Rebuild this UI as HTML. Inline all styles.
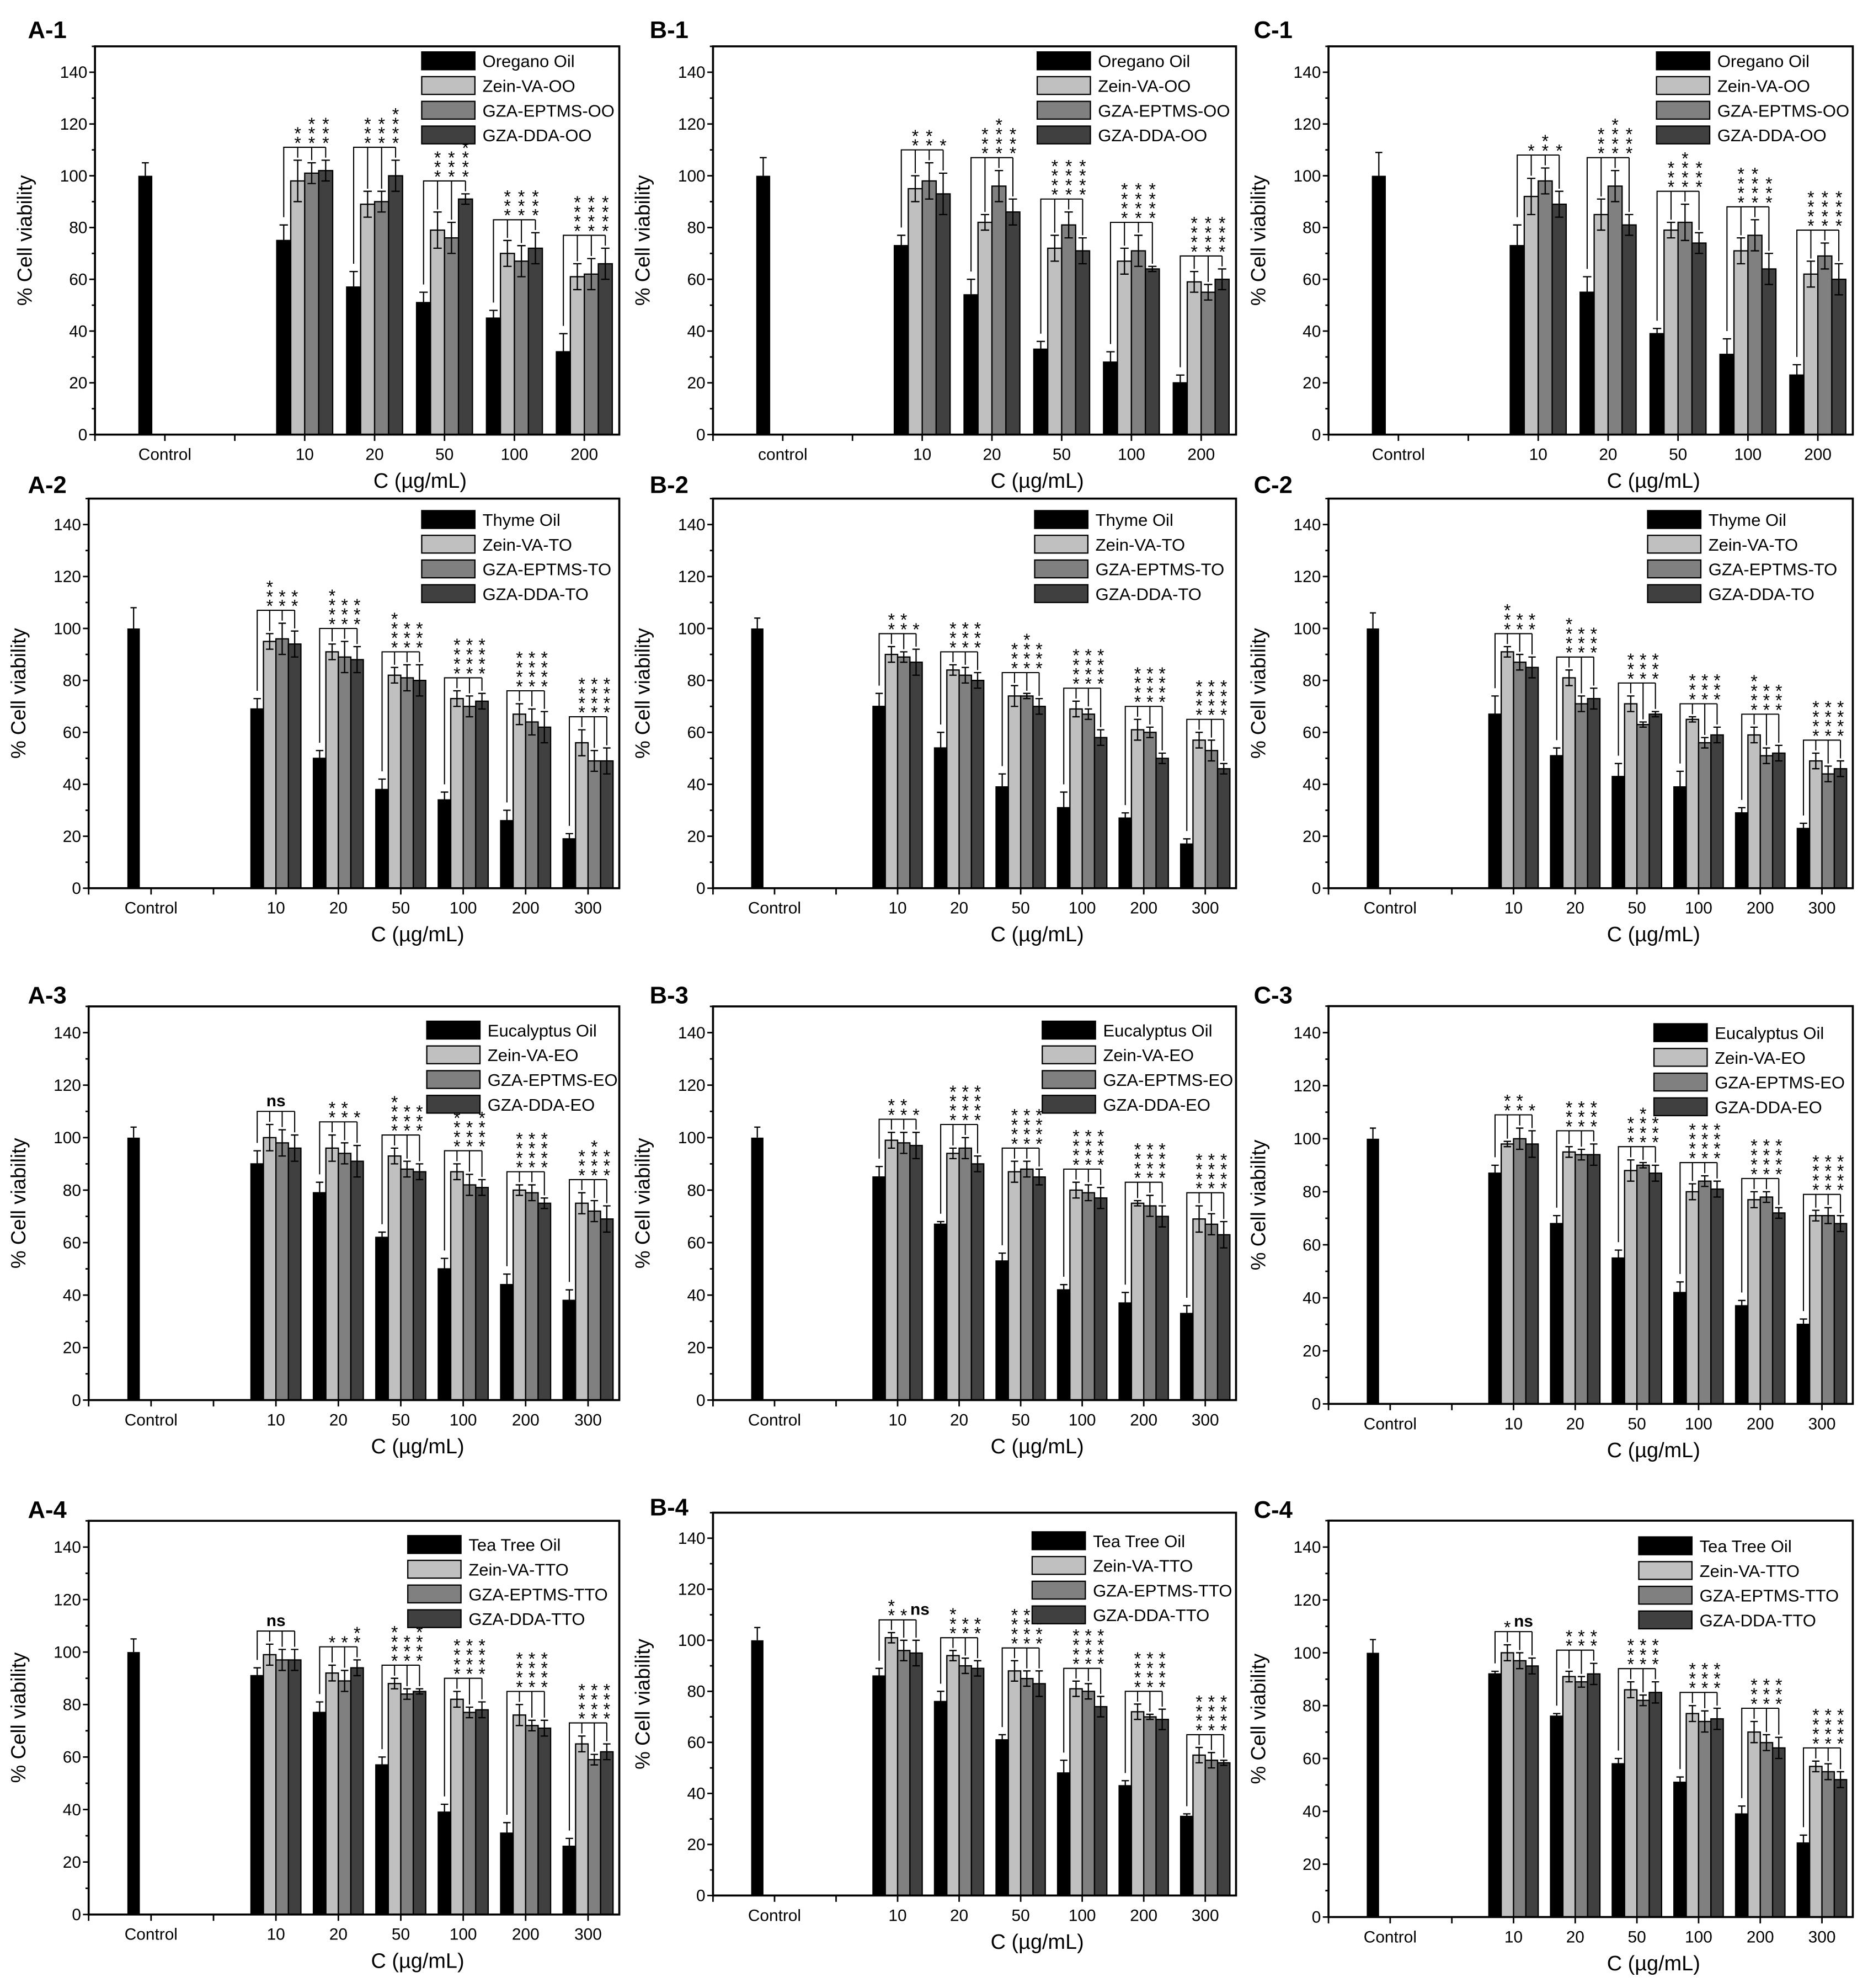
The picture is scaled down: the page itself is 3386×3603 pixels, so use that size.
<!DOCTYPE html>
<html><head><meta charset="utf-8"><title>Cell viability panels</title>
<style>html,body{margin:0;padding:0;background:#fff}svg{display:block}</style></head>
<body>
<svg id="fig" xmlns="http://www.w3.org/2000/svg" width="3386" height="3603" viewBox="0 0 1475 1569" preserveAspectRatio="none" font-family="'Liberation Sans', Arial, sans-serif"></svg>
<script>
// ---------- data (values in % cell viability) ----------
const CONTROL_VALUE = 100;
const conc5 = ["10","20","50","100","200"];
const conc6 = ["10","20","50","100","200","300"];

const A1_oil=[75,57,51,45,32], A1_zein=[98,89,79,70,61], A1_ept=[101,90,76,67,62], A1_dda=[102,100,91,72,66];
const A2_oil=[69,50,38,34,26,19], A2_zein=[95,91,82,73,67,56], A2_ept=[96,89,81,70,64,49], A2_dda=[94,88,80,72,62,49];
const A3_oil=[90,79,62,50,44,38], A3_zein=[100,96,93,87,80,75], A3_ept=[98,94,88,82,79,72], A3_dda=[96,91,87,81,75,69];
const A4_oil=[91,77,57,39,31,26], A4_zein=[99,92,88,82,76,65], A4_ept=[97,89,84,77,72,59], A4_dda=[97,94,85,78,71,62];
const B1_oil=[73,54,33,28,20], B1_zein=[95,82,72,67,59], B1_ept=[98,96,81,71,55], B1_dda=[93,86,71,64,60];
const B2_oil=[70,54,39,31,27,17], B2_zein=[90,84,74,69,61,57], B2_ept=[89,82,74,67,60,53], B2_dda=[87,80,70,58,50,46];
const B3_oil=[85,67,53,42,37,33], B3_zein=[99,94,87,80,75,69], B3_ept=[98,96,88,79,74,67], B3_dda=[97,90,85,77,70,63];
const B4_oil=[86,76,61,48,43,31], B4_zein=[101,94,88,81,72,55], B4_ept=[96,90,85,80,70,53], B4_dda=[95,89,83,74,69,52];
const C1_oil=[73,55,39,31,23], C1_zein=[92,85,79,71,62], C1_ept=[98,96,82,77,69], C1_dda=[89,81,74,64,60];
const C2_oil=[67,51,43,39,29,23], C2_zein=[91,81,71,65,59,49], C2_ept=[87,71,63,56,51,44], C2_dda=[85,73,67,59,52,46];
const C3_oil=[87,68,55,42,37,30], C3_zein=[98,95,88,80,77,71], C3_ept=[100,94,90,84,78,71], C3_dda=[98,94,87,81,72,68];
const C4_oil=[92,76,58,51,39,28], C4_zein=[100,91,86,77,70,57], C4_ept=[97,89,82,74,66,55], C4_dda=[95,92,85,75,64,52];

const A1_eOil=[6,6,4,3,7], A1_eZein=[8,5,7,5,5], A1_eEpt=[4,4,6,6,6], A1_eDda=[4,6,2,6,6];
const A2_eOil=[4,3,4,3,4,2], A2_eZein=[3,3,3,3,4,5], A2_eEpt=[6,6,5,4,5,4], A2_eDda=[5,5,6,3,6,5];
const A3_eOil=[5,4,2,4,4,4], A3_eZein=[5,5,3,3,2,4], A3_eEpt=[5,4,3,4,3,4], A3_eDda=[5,6,3,3,2,5];
const A4_eOil=[3,4,3,3,4,3], A4_eZein=[4,3,2,3,4,3], A4_eEpt=[4,4,2,2,2,2], A4_eDda=[4,3,1,3,3,3];
const B1_eOil=[4,6,3,4,3], B1_eZein=[5,3,5,5,4], B1_eEpt=[7,6,5,6,3], B1_eDda=[8,5,5,1,4];
const B2_eOil=[5,6,5,6,2,2], B2_eZein=[3,2,4,3,4,3], B2_eEpt=[2,3,1,2,2,4], B2_eDda=[5,3,3,3,2,2];
const B3_eOil=[4,1,3,2,4,3], B3_eZein=[3,2,4,3,1,5], B3_eEpt=[4,4,3,3,4,4], B3_eDda=[5,3,3,4,4,5];
const B4_eOil=[3,4,2,5,2,1], B4_eZein=[2,2,4,3,3,3], B4_eEpt=[4,3,3,3,1,3], B4_eDda=[5,3,5,4,4,1];
const C1_eOil=[8,6,2,6,4], C1_eZein=[7,6,3,5,5], C1_eEpt=[5,6,7,6,5], C1_eDda=[5,4,4,6,6];
const C2_eOil=[7,3,5,6,2,2], C2_eZein=[2,3,3,1,3,3], C2_eEpt=[3,3,1,2,3,3], C2_eDda=[4,4,1,3,3,3];
const C3_eOil=[3,3,3,4,2,2], C3_eZein=[1,2,4,3,3,2], C3_eEpt=[4,2,1,2,2,3], C3_eDda=[5,4,3,3,2,3];
const C4_eOil=[1,1,2,2,3,3], C4_eZein=[3,2,3,3,4,2], C4_eEpt=[3,2,2,4,3,3], C4_eDda=[3,4,4,4,4,3];

const controlErr = {"A-1":5,"A-2":8,"A-3":4,"A-4":5,"B-1":7,"B-2":4,"B-3":4,"B-4":5,"C-1":9,"C-2":6,"C-3":4,"C-4":5};

// significance star counts per group ("ns" = not significant)
const A1_sig=[[2,3,3],[3,3,4],[3,3,4],[3,3,3],[4,4,4]];
const A2_sig=[[3,2,2],[4,3,3],[4,3,3],[4,4,4],[4,4,4],[4,4,4]];
const A3_sig=["ns",[2,2,1],[4,3,3],[4,3,4],[4,4,4],[3,4,3]];
const A4_sig=["ns",[1,1,2],[4,3,4],[4,4,4],[4,4,4],[4,4,4]];
const B1_sig=[[2,2,1],[3,4,3],[4,4,4],[4,4,4],[4,4,4]];
const B2_sig=[[2,2,1],[3,3,3],[3,4,3],[4,4,4],[4,4,4],[4,4,4]];
const B3_sig=[[2,2,1],[4,4,4],[4,4,4],[4,4,4],[4,4,4],[4,4,4]];
const B4_sig=["2,1,ns",[3,2,2],[4,4,3],[4,4,4],[4,4,4],[4,4,4]];
const C1_sig=[[1,2,1],[3,4,3],[3,4,3],[4,4,3],[4,4,4]];
const C2_sig=[[3,2,2],[4,3,3],[3,3,3],[3,3,3],[4,3,3],[4,4,4]];
const C3_sig=[[2,2,1],[3,3,3],[3,4,3],[4,4,4],[4,4,4],[4,4,4]];
const C4_sig=["1,ns",[2,2,2],[3,3,3],[3,3,3],[3,3,3],[4,4,4]];

const yTicks=[0,20,40,60,80,100,120,140];
const fills=["#000000","#c0c0c0","#808080","#404040"];

// ---------- layout ----------
const panels=[
 {id:"A-1",L:75,R:489,B:343,Y140:57,legX:333,legY:48,labX:22,labY:30,oil:"Oregano Oil",suf:"OO",ctrl:"Control",cat:conc5,d:[A1_oil,A1_zein,A1_ept,A1_dda],e:[A1_eOil,A1_eZein,A1_eEpt,A1_eDda],sig:A1_sig},
 {id:"A-2",L:70,R:489,B:701,Y140:414,legX:333,legY:410,labX:22,labY:389,oil:"Thyme Oil",suf:"TO",ctrl:"Control",cat:conc6,d:[A2_oil,A2_zein,A2_ept,A2_dda],e:[A2_eOil,A2_eZein,A2_eEpt,A2_eDda],sig:A2_sig},
 {id:"A-3",L:70,R:489,B:1105,Y140:815,legX:337,legY:813,labX:22,labY:792,oil:"Eucalyptus Oil",suf:"EO",ctrl:"Control",cat:conc6,d:[A3_oil,A3_zein,A3_ept,A3_dda],e:[A3_eOil,A3_eZein,A3_eEpt,A3_eDda],sig:A3_sig},
 {id:"A-4",L:70,R:489,B:1511,Y140:1221,legX:322,legY:1219,labX:22,labY:1198,oil:"Tea Tree Oil",suf:"TTO",ctrl:"Control",cat:conc6,d:[A4_oil,A4_zein,A4_ept,A4_dda],e:[A4_eOil,A4_eZein,A4_eEpt,A4_eDda],sig:A4_sig},
 {id:"B-1",L:563,R:976,B:343,Y140:57,legX:819,legY:48,labX:513,labY:30,oil:"Oregano Oil",suf:"OO",ctrl:"control",cat:conc5,d:[B1_oil,B1_zein,B1_ept,B1_dda],e:[B1_eOil,B1_eZein,B1_eEpt,B1_eDda],sig:B1_sig},
 {id:"B-2",L:563,R:976,B:701,Y140:414,legX:817,legY:410,labX:513,labY:389,oil:"Thyme Oil",suf:"TO",ctrl:"Control",cat:conc6,d:[B2_oil,B2_zein,B2_ept,B2_dda],e:[B2_eOil,B2_eZein,B2_eEpt,B2_eDda],sig:B2_sig},
 {id:"B-3",L:563,R:976,B:1105,Y140:815,legX:823,legY:813,labX:513,labY:792,oil:"Eucalyptus Oil",suf:"EO",ctrl:"Control",cat:conc6,d:[B3_oil,B3_zein,B3_ept,B3_dda],e:[B3_eOil,B3_eZein,B3_eEpt,B3_eDda],sig:B3_sig},
 {id:"B-4",L:563,R:976,B:1496,Y140:1214,legX:815,legY:1216,labX:513,labY:1196,oil:"Tea Tree Oil",suf:"TTO",ctrl:"Control",cat:conc6,d:[B4_oil,B4_zein,B4_ept,B4_dda],e:[B4_eOil,B4_eZein,B4_eEpt,B4_eDda],sig:B4_sig},
 {id:"C-1",L:1049,R:1463,B:343,Y140:57,legX:1308,legY:48,labX:990,labY:30,oil:"Oregano Oil",suf:"OO",ctrl:"Control",cat:conc5,d:[C1_oil,C1_zein,C1_ept,C1_dda],e:[C1_eOil,C1_eZein,C1_eEpt,C1_eDda],sig:C1_sig},
 {id:"C-2",L:1049,R:1463,B:701,Y140:414,legX:1301,legY:410,labX:990,labY:389,oil:"Thyme Oil",suf:"TO",ctrl:"Control",cat:conc6,d:[C2_oil,C2_zein,C2_ept,C2_dda],e:[C2_eOil,C2_eZein,C2_eEpt,C2_eDda],sig:C2_sig},
 {id:"C-3",L:1049,R:1463,B:1108,Y140:815,legX:1306,legY:815,labX:990,labY:792,oil:"Eucalyptus Oil",suf:"EO",ctrl:"Control",cat:conc6,d:[C3_oil,C3_zein,C3_ept,C3_dda],e:[C3_eOil,C3_eZein,C3_eEpt,C3_eDda],sig:C3_sig},
 {id:"C-4",L:1049,R:1463,B:1513,Y140:1221,legX:1294,legY:1220,labX:990,labY:1198,oil:"Tea Tree Oil",suf:"TTO",ctrl:"Control",cat:conc6,d:[C4_oil,C4_zein,C4_ept,C4_dda],e:[C4_eOil,C4_eZein,C4_eEpt,C4_eDda],sig:C4_sig}
];

const NS="http://www.w3.org/2000/svg";
const svg=document.getElementById("fig");
function el(tag,attrs,parent,text){
  const e=document.createElementNS(NS,tag);
  for(const k in attrs) e.setAttribute(k,attrs[k]);
  if(text!==undefined) e.textContent=text;
  parent.appendChild(e);
  return e;
}

panels.forEach(p=>{
  const g=el("g",{},svg);
  
  
  const n=p.cat.length;
  const unit=(p.B-p.Y140)/140;
  const T=p.B-150*unit;
  const Y=v=>p.B-v*unit;
  const span=n+2.5;
  const X=i=>p.L+i/span*(p.R-p.L);
  const bw=0.2*(p.R-p.L)/span;

  const lab=el("text",{x:p.labX,y:p.labY,"font-size":19,"font-weight":"bold"},g,p.id);
  
  

  for(let v=0;v<=150;v+=10){
    const major=v%20===0;
    const t=el("line",{x1:p.L,x2:p.L-(major?4.5:2.5),y1:Y(v),y2:Y(v),stroke:"#000","stroke-width":1.2},g);
    
    
  }
  yTicks.forEach(v=>{
    const t=el("text",{x:p.L-6,y:Y(v)+4.5,"font-size":13,"text-anchor":"end"},g,String(v));
    
    
  });
  const yt=el("text",{x:0,y:0,"font-size":16,"text-anchor":"middle",transform:`translate(${p.L-50},${(T+p.B)/2}) rotate(-90)`},g,"% Cell viability");
  
  

  for(let i=0;i<=n+2;i++){
    const t=el("line",{x1:X(i),x2:X(i),y1:p.B,y2:p.B+5,stroke:"#000","stroke-width":1.2},g);
    
    
  }
  const cl=el("text",{x:X(1),y:p.B+20,"font-size":13,"text-anchor":"middle"},g,p.ctrl);
  
  
  p.cat.forEach((c,i)=>{
    const t=el("text",{x:X(3+i),y:p.B+20,"font-size":13,"text-anchor":"middle"},g,c);
    
    
  });
  const xt=el("text",{x:p.L+0.62*(p.R-p.L),y:p.B+42,"font-size":16.5,"text-anchor":"middle"},g,"C (\u00b5g/mL)");
  
  

  const cx=X(0.72);
  const cb=el("rect",{x:cx-bw/2,y:Y(CONTROL_VALUE),width:bw,height:CONTROL_VALUE*unit,fill:"#000"},g);
  
  
  const ce=controlErr[p.id];
  const cel=el("path",{d:`M${cx},${Y(CONTROL_VALUE)}V${Y(CONTROL_VALUE+ce)}M${cx-bw*0.25},${Y(CONTROL_VALUE+ce)}H${cx+bw*0.25}`,stroke:"#000","stroke-width":1,fill:"none"},g);
  
  

  const offs=[-1.5,-0.5,0.5,1.5];
  for(let gi=0;gi<n;gi++){
    const gc=X(3+gi);
    const tops=[];
    for(let s=0;s<4;s++){
      const v=p.d[s][gi], er=p.e[s][gi];
      const bx=gc+offs[s]*bw;
      const r=el("rect",{x:bx-bw/2,y:Y(v),width:bw,height:v*unit,fill:fills[s],stroke:"#000","stroke-width":1},g);
      
      
      const eb=el("path",{d:`M${bx},${Y(v-er)}V${Y(v+er)}M${bx-bw*0.3},${Y(v+er)}H${bx+bw*0.3}M${bx-bw*0.3},${Y(v-er)}H${bx+bw*0.3}`,stroke:"#000","stroke-width":1,fill:"none"},g);
      
      
      tops.push(v+er);
    }
    const hb=Math.max(...tops)+5;
    const by=Y(hb);
    const x0=gc+offs[0]*bw, x3=gc+offs[3]*bw;
    let d=`M${x0},${Y(tops[0]+3)}V${by}H${x3}`;
    for(let s=1;s<4;s++){ const bx=gc+offs[s]*bw; d+=`M${bx},${by}V${Y(tops[s]+1)}`; }
    const br=el("path",{d:d,stroke:"#000","stroke-width":0.9,fill:"none"},g);
    
    
    const sg=p.sig[gi];
    let counts=[];
    if(sg==="ns"){
      const ns=el("text",{x:gc,y:by-4,"font-size":13,"font-weight":"bold","text-anchor":"middle"},g,"ns");
      
      
    } else if(typeof sg==="string"){
      sg.split(",").forEach((pt,k)=>{
        const bx=gc+offs[k+1]*bw;
        if(pt==="ns"){
          const ns=el("text",{x:bx+3,y:by-4,"font-size":13,"font-weight":"bold","text-anchor":"middle"},g,"ns");
          
          
        } else counts[k]=+pt;
      });
    } else counts=sg;
    counts.forEach((c,k)=>{
      if(!c) return;
      const bx=gc+offs[k+1]*bw;
      for(let j=0;j<c;j++){
        const st=el("text",{x:bx,y:by+1.5-j*7.5,"font-size":14,"text-anchor":"middle"},g,"*");
        
        
      }
    });
  }

  const fr=el("rect",{x:p.L,y:T,width:p.R-p.L,height:p.B-T,fill:"none",stroke:"#000","stroke-width":1.6},g);
  
  

  const names=[p.oil,"Zein-VA-"+p.suf,"GZA-EPTMS-"+p.suf,"GZA-DDA-"+p.suf];
  names.forEach((nm,k)=>{
    const cy=p.legY+k*19.5;
    const lb=el("rect",{x:p.legX,y:cy-7,width:42,height:14,fill:fills[k],stroke:"#000","stroke-width":1},g);
    
    
    const lt=el("text",{x:p.legX+48,y:cy+5,"font-size":13.5},g,nm);
    
    
  });
});
</script>
</body></html>
